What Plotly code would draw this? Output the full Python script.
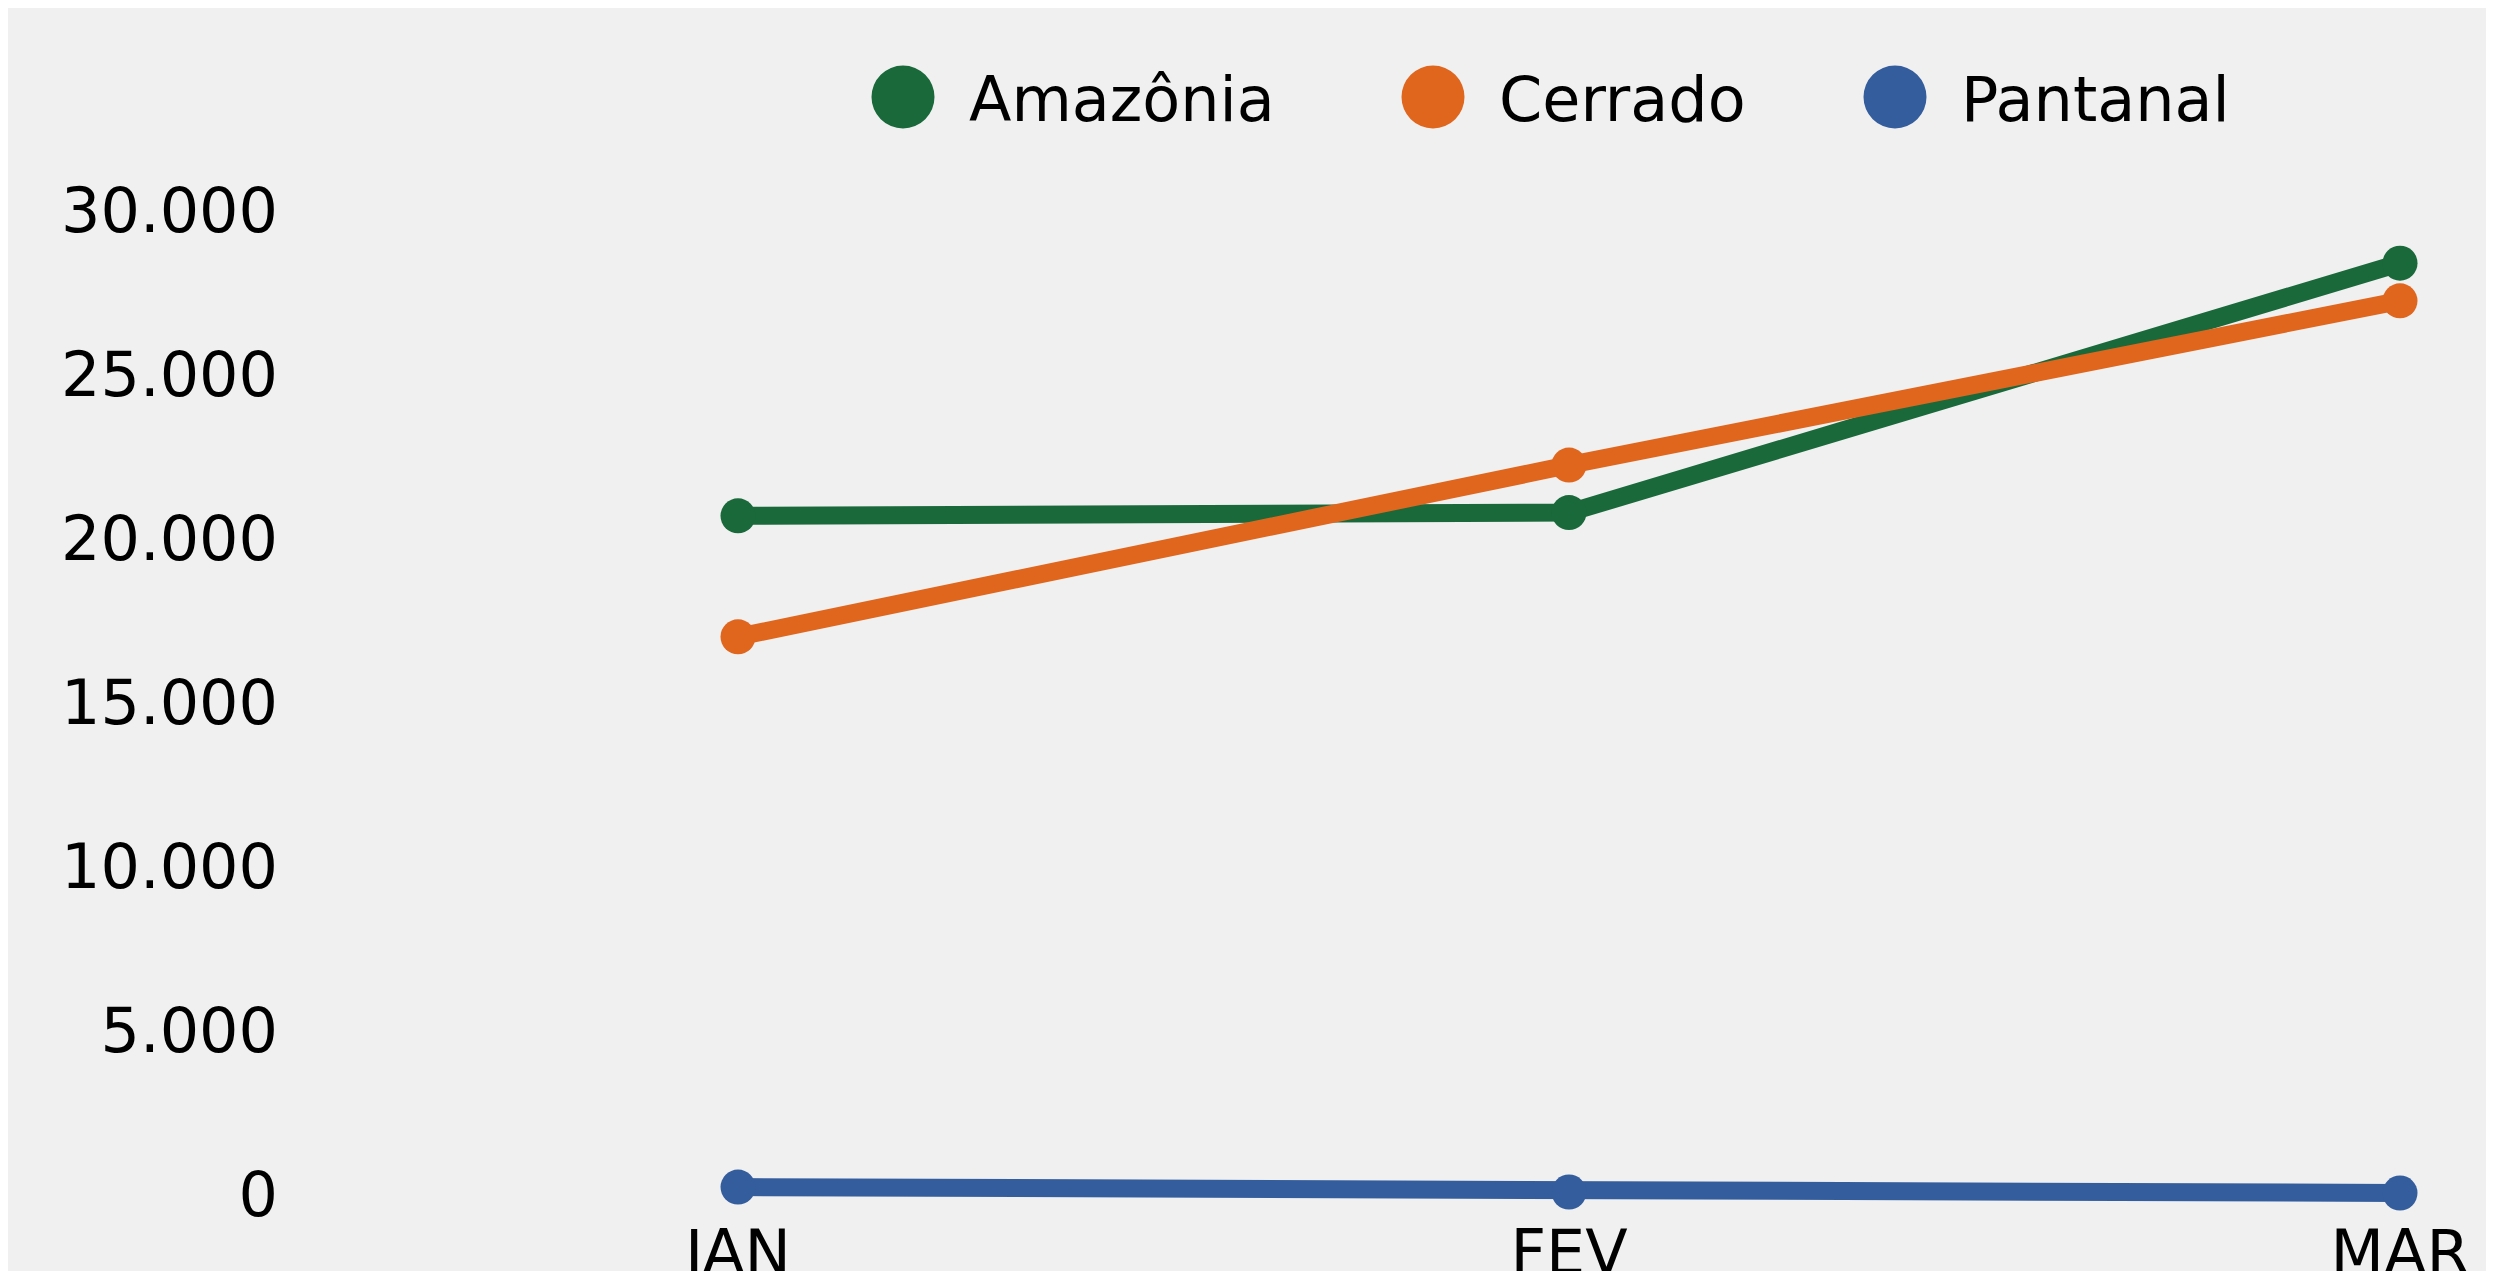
import plotly.graph_objects as go

# ---- data ----
months = ["JAN", "FEV", "MAR"]
amazonia = [20690, 20790, 28400]
cerrado = [17000, 22240, 27250]
pantanal = [210, 60, 30]
series_names = ["Amazônia", "Cerrado", "Pantanal"]
series_colors = ["#19693a", "#e0661e", "#345d9d"]
y_ticks = [0, 5000, 10000, 15000, 20000, 25000, 30000]

FONT = "DejaVu Sans"
W, H = 2494, 1271
OFF = 8  # page body offset
ML, MR, MT, MB = 282, 50, 142, 68
PW = W - ML - MR
PH = H - MT - MB
PB = H - MB  # plot bottom (figure px)

# layout anchors (screen px of the reference)
X_FIRST, X_LAST = 738, 2400
Y_ZERO, Y_TOP = 1194, 210.7
unit_x = (X_LAST - X_FIRST) / 2
xr0 = -((X_FIRST - OFF) - ML) / unit_x
xr1 = xr0 + PW / unit_x
ppu = (Y_ZERO - Y_TOP) / 30000
yr0 = -(PB - (Y_ZERO - OFF)) / ppu
yr1 = 30000 + ((Y_TOP - OFF) - MT) / ppu


def px_x(x):
    return (x - OFF - ML) / PW


def px_y(y):
    return (PB - (y - OFF)) / PH


fig = go.Figure()
for name, vals, col in zip(series_names, [amazonia, cerrado, pantanal], series_colors):
    fig.add_trace(go.Scatter(
        x=months, y=vals, name=name, mode="lines+markers",
        line=dict(color=col, width=18),
        marker=dict(color=col, size=35, line=dict(width=0)),
        showlegend=False,
    ))

# custom legend (large markers)
legend_marker_px = [903, 1433, 1895]
legend_text_px = [967, 1497, 1959]
legend_y_px = 97
shapes = []
annotations = []
for name, col, mx, tx in zip(series_names, series_colors, legend_marker_px, legend_text_px):
    shapes.append(dict(
        type="circle", xref="paper", yref="paper",
        xsizemode="pixel", ysizemode="pixel",
        xanchor=px_x(mx), yanchor=px_y(legend_y_px),
        x0=-31.5, x1=31.5, y0=-31.5, y1=31.5,
        fillcolor=col, line=dict(width=0),
    ))
    annotations.append(dict(
        text=name, xref="paper", yref="paper",
        x=px_x(tx), y=px_y(legend_y_px + 2), xanchor="left", yanchor="middle",
        showarrow=False, font=dict(family=FONT, size=62, color="#000000"),
    ))

fig.update_layout(
    width=W, height=H,
    margin=dict(l=ML, r=MR, t=MT, b=MB),
    paper_bgcolor="#f0f0f0", plot_bgcolor="#f0f0f0",
    separators=",.",
    shapes=shapes, annotations=annotations,
    showlegend=False,
    xaxis=dict(
        type="category", range=[xr0, xr1],
        showgrid=False, zeroline=False, showline=False, ticks="",
        tickfont=dict(family=FONT, size=62, color="#000000"),
        automargin=False,
    ),
    yaxis=dict(
        range=[yr0, yr1], tickvals=y_ticks, tickformat=",d",
        showgrid=False, zeroline=False, showline=False, ticks="",
        ticklabelstandoff=11,
        tickfont=dict(family=FONT, size=62, color="#000000"),
        automargin=False,
    ),
)

fig.write_html("out.html")
